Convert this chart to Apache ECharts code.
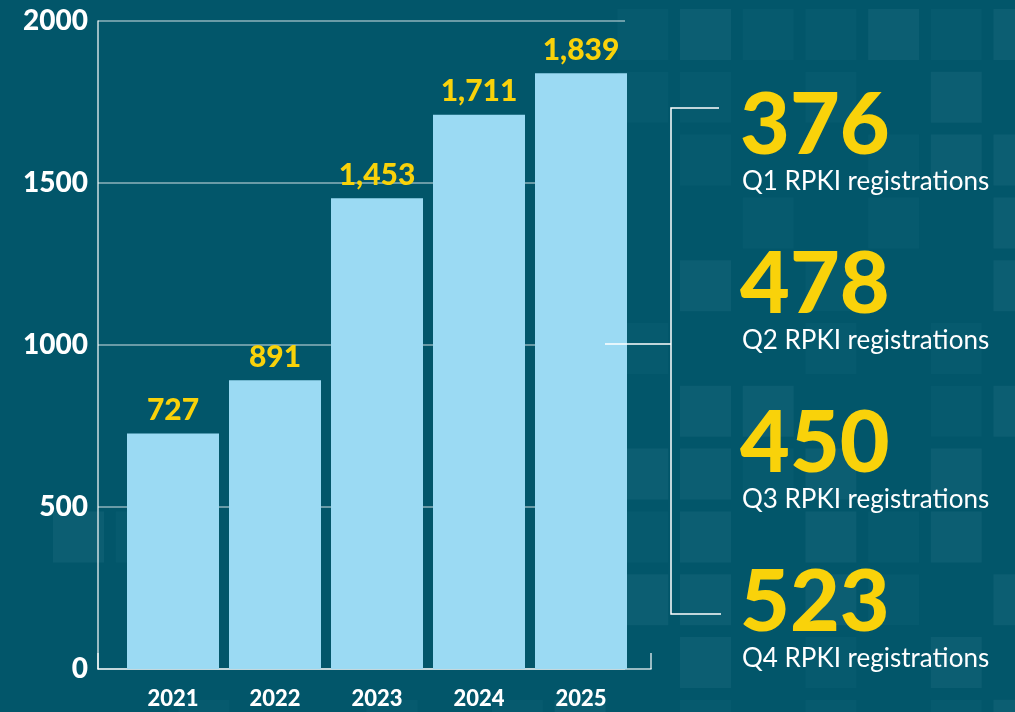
<!DOCTYPE html>
<html lang="en">
<head>
<meta charset="utf-8">
<title>RPKI registrations</title>
<script src="https://cdn.jsdelivr.net/npm/echarts@6/dist/echarts.min.js"></script>
<style>
  html, body { margin: 0; padding: 0; background: #02566a; }
  #chart { width: 1015px; height: 712px; }
</style>
</head>
<body>
<div id="chart"></div>
<script>
// data
var years = ['2021', '2022', '2023', '2024', '2025'];
var totals = [727, 891, 1453, 1711, 1839];
var quarterNames = ['Q1', 'Q2', 'Q3', 'Q4'];
var quarterValues = [376, 478, 450, 523];
var yMin = 0, yMax = 2000, yStep = 500;

var chart = echarts.init(document.getElementById('chart'));

// background squares, decoration only (a = faint, b = lighter)
var squareRows = [
  '.........abaabab',
  '.........aa.a.b.',
  '..........a..abb',
  '...........a.a.b',
  '........a.b.a..b',
  '.........a..a.a.',
  '..........bb..ab',
  '.........bbab.b.',
  'ba.......ab.bab.',
  '.........bb.ba.b',
  '..........b.a.b.',
  '..a..a.ab.a.a.ab'
];
var squares = [];
squareRows.forEach(function (row, r) {
  for (var c = 0; c < row.length; c++) {
    var ch = row.charAt(c);
    if (ch === '.') continue;
    squares.push({
      type: 'rect', z: -10, silent: true,
      shape: { x: 53 + c * 62.7, y: 9 + r * 62.8, width: 51, height: 51 },
      style: { fill: ch === 'a' ? '#065a6e' : '#0c5e72' }
    });
  }
});

var rightTexts = [];
quarterNames.forEach(function (q, i) {
  rightTexts.push({
    type: 'text', left: 740, top: 83 + i * 159, z: 100,
    style: { text: String(quarterValues[i]), fill: '#f9d20a', font: '900 86px Lato' }
  });
  rightTexts.push({
    type: 'text', left: 742, top: 169 + i * 159, z: 100,
    style: { text: q + ' RPKI registrations', fill: '#ffffff', font: '400 26px Lato' }
  });
});

var bracket = [
  { type: 'polyline', z: 100, shape: { points: [[719, 108], [671, 108], [671, 614], [721, 614]] },
    style: { stroke: '#ffffff', lineWidth: 1.5, fill: null } },
  { type: 'line', z: 100, shape: { x1: 605, y1: 344, x2: 671, y2: 344 },
    style: { stroke: '#ffffff', lineWidth: 1.5 } }
];

var option = {
  backgroundColor: '#02566a',
  textStyle: { fontFamily: 'Lato' },
  graphic: squares.concat(bracket, rightTexts),
  grid: [
    { left: 98, right: 1015 - 651, top: 21, bottom: 43 },   // axis lines
    { left: 98, right: 1015 - 625, top: 21, bottom: 43 },   // y labels + gridlines
    { left: 122, right: 1015 - 632, top: 21, bottom: 43 }   // bars
  ],
  xAxis: [
    { gridIndex: 0, type: 'value', min: 0, max: 1, interval: 1,
      axisLine: { show: true, lineStyle: { color: 'rgba(255,255,255,0.8)', width: 1.5 } },
      axisTick: { show: true, inside: true, length: 16, lineStyle: { color: 'rgba(255,255,255,0.8)', width: 1.5 } },
      axisLabel: { show: false }, splitLine: { show: false } },
    { gridIndex: 1, type: 'value', min: 0, max: 1, show: false },
    { gridIndex: 2, type: 'category', data: years,
      axisLine: { show: false }, axisTick: { show: false },
      axisLabel: { color: '#ffffff', fontWeight: 900, fontSize: 22, margin: 19 } }
  ],
  yAxis: [
    { gridIndex: 0, type: 'value', min: yMin, max: yMax, interval: yStep,
      axisLine: { show: true, lineStyle: { color: 'rgba(255,255,255,0.8)', width: 1.5 } },
      axisTick: { show: false }, axisLabel: { show: false }, splitLine: { show: false } },
    { gridIndex: 1, type: 'value', min: yMin, max: yMax, interval: yStep,
      axisLine: { show: false }, axisTick: { show: false },
      axisLabel: { color: '#ffffff', fontWeight: 900, fontSize: 28, margin: 10,
                   formatter: function (v) { return String(v); } },
      splitLine: { lineStyle: { color: 'rgba(255,255,255,0.55)', width: 1.5 } } },
    { gridIndex: 2, type: 'value', min: yMin, max: yMax, show: false }
  ],
  series: [{
    type: 'bar', xAxisIndex: 2, yAxisIndex: 2,
    data: totals, barWidth: 92,
    itemStyle: { color: '#9bdaf3' },
    label: {
      show: true, position: 'top', distance: 8,
      color: '#f9d20a', fontWeight: 900, fontSize: 30,
      formatter: function (p) { return p.value.toLocaleString('en-US'); }
    }
  }]
};
chart.setOption(option);
</script>
</body>
</html>
